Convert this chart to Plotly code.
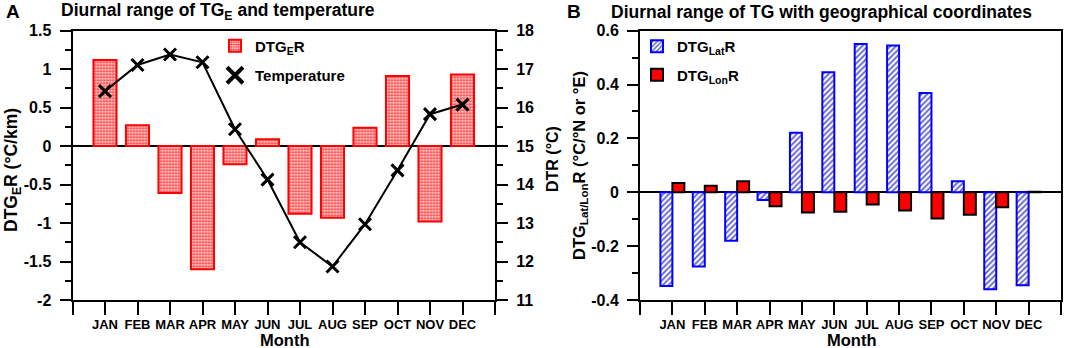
import plotly.graph_objects as go

months = ["JAN", "FEB", "MAR", "APR", "MAY", "JUN", "JUL", "AUG", "SEP", "OCT", "NOV", "DEC"]
month_pos = list(range(1, 13))

# Panel A data
dtge_r = [1.12, 0.27, -0.61, -1.60, -0.235, 0.09, -0.88, -0.93, 0.24, 0.91, -0.98, 0.93]
temperature = [16.43, 17.11, 17.38, 17.18, 15.44, 14.13, 12.50, 11.87, 12.97, 14.37, 15.83, 16.08]

# Panel B data
dtg_lat_r = [-0.348, -0.276, -0.18, -0.029, 0.221, 0.446, 0.551, 0.545, 0.369, 0.041, -0.36, -0.345]
dtg_lon_r = [0.034, 0.024, 0.041, -0.052, -0.075, -0.072, -0.045, -0.068, -0.097, -0.083, -0.056, 0.002]

# Tick labels
x_tickvals = list(range(0, 14))
x_ticktext = [""] + months + [""]
ya_vals = [-2, -1.5, -1, -0.5, 0, 0.5, 1, 1.5]
ya_text = ["-2", "-1.5", "-1", "-0.5", "0", "0.5", "1", "1.5"]
ya2_vals = [11, 12, 13, 14, 15, 16, 17, 18]
ya2_text = ["11", "12", "13", "14", "15", "16", "17", "18"]
yb_vals = [-0.4, -0.2, 0, 0.2, 0.4, 0.6]
yb_text = ["-0.4", "-0.2", "0", "0.2", "0.4", "0.6"]

FONT = "Arial, Liberation Sans, sans-serif"
tickfont = dict(family=FONT, size=16, color="black", weight="bold")

fig = go.Figure()

fig.add_trace(go.Bar(
    x=month_pos, y=dtge_r, width=0.71, name="DTG<sub>E</sub>R",
    marker=dict(color="white", line=dict(color="#ff0000", width=2),
                pattern=dict(shape=".", fgcolor="#ff3333", bgcolor="white", size=3, solidity=0.6)),
    xaxis="x", yaxis="y", legend="legend",
))
fig.add_trace(go.Scatter(
    x=month_pos, y=temperature, mode="lines+markers", showlegend=False,
    line=dict(color="black", width=2),
    marker=dict(symbol="x-thin", size=12, color="black", line=dict(color="black", width=3)),
    xaxis="x", yaxis="y2",
))
fig.add_trace(go.Scatter(
    x=[None], y=[None], mode="markers", name="Temperature",
    marker=dict(symbol="x-thin", size=18, color="black", line=dict(color="black", width=4)),
    xaxis="x", yaxis="y2", legend="legend2",
))

fig.add_trace(go.Bar(
    x=month_pos, y=dtg_lat_r, width=0.37, offset=-0.37, name="DTG<sub>Lat</sub>R",
    marker=dict(color="white", line=dict(color="#0000ff", width=2),
                pattern=dict(shape="/", fgcolor="#5a5ad0", bgcolor="white", size=4, solidity=0.45)),
    xaxis="x2", yaxis="y3", legend="legend3",
))
fig.add_trace(go.Bar(
    x=month_pos, y=dtg_lon_r, width=0.37, offset=0.0, name="DTG<sub>Lon</sub>R",
    marker=dict(color="#ff0000", line=dict(color="black", width=2)),
    xaxis="x2", yaxis="y3", legend="legend4",
))

W, H = 1065, 348
def px(x):
    return x / W
def py(y):
    return 1 - y / H

ydom = [py(300), py(30.7)]

xcommon = dict(range=[0, 13], tickvals=x_tickvals, ticktext=x_ticktext, ticks="outside",
               ticklen=13, tickwidth=2, tickcolor="black", showline=True, linewidth=2,
               linecolor="black", mirror=True, showgrid=False, zeroline=False,
               ticklabelstandoff=-2, automargin=False,
               tickfont=dict(family=FONT, size=13, color="black", weight="bold"))

ycommon = dict(ticks="outside", ticklen=11, tickwidth=2, tickcolor="black",
               showline=True, linewidth=2, linecolor="black", showgrid=False,
               tickfont=tickfont, ticklabelstandoff=5, automargin=False)

fig.update_layout(
    template="none",
    width=W, height=H, margin=dict(l=0, r=0, t=0, b=0, pad=0), autosize=False,
    paper_bgcolor="white", plot_bgcolor="white",
    barmode="overlay",
    font=dict(family=FONT, color="black"),
    xaxis=dict(domain=[px(72.5), px(495)], anchor="y", **xcommon),
    yaxis=dict(domain=ydom, range=[-2, 1.5], tickvals=ya_vals, ticktext=ya_text,
               minor=dict(ticks="outside", ticklen=6, tickwidth=2, tickcolor="black", dtick=0.25, tick0=0),
               zeroline=True, zerolinecolor="black", zerolinewidth=1.5, anchor="x", **ycommon),
    yaxis2=dict(range=[11, 18], overlaying="y", side="right", anchor="x",
                tickvals=ya2_vals, ticktext=ya2_text,
                minor=dict(ticks="outside", ticklen=6, tickwidth=2, tickcolor="black", dtick=0.5, tick0=11),
                zeroline=False, **ycommon),
    xaxis2=dict(domain=[px(640), px(1061)], anchor="y3", **xcommon),
    yaxis3=dict(domain=ydom, range=[-0.4, 0.6], anchor="x2", tickvals=yb_vals, ticktext=yb_text,
                minor=dict(ticks="outside", ticklen=6, tickwidth=2, tickcolor="black", dtick=0.1, tick0=0),
                mirror=True, zeroline=True, zerolinecolor="black", zerolinewidth=1.5, **ycommon),
)

legfont = dict(family=FONT, size=15, color="black", weight="bold")
for name, xx, yy in [("legend", 215, 29.5), ("legend2", 215, 59), ("legend3", 637, 30), ("legend4", 637, 58.5)]:
    fig.update_layout({name: dict(x=px(xx), y=py(yy), xanchor="left", yanchor="top",
                                  bgcolor="rgba(0,0,0,0)", borderwidth=0, font=legfont)})

annotations = [
    dict(text="A", x=px(4), y=py(12), xanchor="left", font=dict(size=19)),
    dict(text="Diurnal range of TG<sub>E</sub> and temperature", x=px(59), y=py(12), xanchor="left", font=dict(size=17.5)),
    dict(text="B", x=px(565), y=py(12), xanchor="left", font=dict(size=19)),
    dict(text="Diurnal range of TG with geographical coordinates", x=px(609), y=py(12), xanchor="left", font=dict(size=17.5)),
    dict(text="DTG<sub>E</sub>R (°C/km)", x=px(12), y=py(170), textangle=-90, font=dict(size=17.5)),
    dict(text="DTR (°C)", x=px(552), y=py(159), textangle=-90, font=dict(size=16)),
    dict(text="DTG<sub>Lat/Lon</sub>R (°C/°N or °E)", x=px(580), y=py(166), textangle=-90, font=dict(size=16.5)),
    dict(text="Month", x=px(284), y=py(339.5), font=dict(size=16.5)),
    dict(text="Month", x=px(851), y=py(339.5), font=dict(size=16.5)),
]
for a in annotations:
    a.update(xref="paper", yref="paper", showarrow=False, yanchor="middle")
    a["font"].update(family=FONT, color="black", weight="bold")
    if "xanchor" not in a:
        a["xanchor"] = "center"
fig.update_layout(annotations=annotations)

fig.write_html("out.html", config={"displayModeBar": False},
               post_script="document.body.style.margin='0px';")
